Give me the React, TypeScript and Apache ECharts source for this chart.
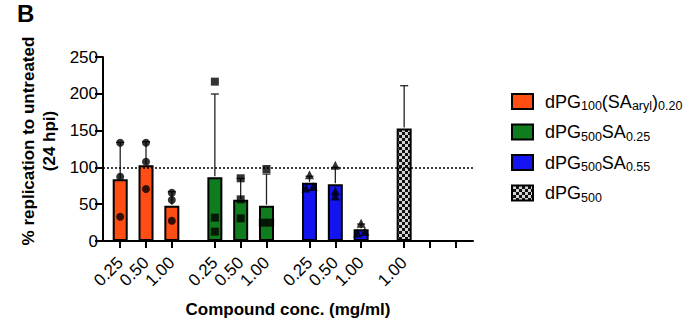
import React, { useEffect, useRef } from 'react';
import * as echarts from 'echarts';

// ---------- data ----------
const groupKeys = ['dPG100(SAaryl)0.20', 'dPG500SA0.25', 'dPG500SA0.55', 'dPG500'];
// legend label as [main, subscript] pairs
const legendParts: string[][][] = [
  [['dPG', '100'], ['(SA', 'aryl'], [')', '0.20']],
  [['dPG', '500'], ['SA', '0.25']],
  [['dPG', '500'], ['SA', '0.55']],
  [['dPG', '500']],
];
const concLabels: string[][] = [
  ['0.25', '0.50', '1.00'],
  ['0.25', '0.50', '1.00'],
  ['0.25', '0.50', '1.00'],
  ['1.00', '', ''],
];
const orangeMeans = [84, 103, 48];
const orangeUpper = [134, 135, 67];
const orangePoints = [[133.6, 87.4, 33], [133.6, 107.7, 70.7], [65.6, 55.7, 27.6]];
const greenMeans = [86.5, 56, 48];
const greenUpper = [199.7, 85, 91];
const greenPoints = [[216.5, 31.7, 12.7], [85.2, 56.6, 30.8], [97.8, 24.9, 24.9]];
const blueMeans = [79, 77, 16];
const blueUpper = [88, 100, 23];
const bluePoints = [[90, 74, 72], [103, 68, 61], [24, 13, 11]];
const grayMeans: (number | null)[] = [153, null, null];
const grayUpper: (number | null)[] = [211, null, null];
const grayPoints: number[][] = [[], [], []];
const yTicks = [0, 50, 100, 150, 200, 250];
const referenceLine = 100;
const yTitle = '% replication to untreated\n(24 hpi)';
const xTitle = 'Compound conc. (mg/ml)';
const panelLetter = 'B';

const allMeans = [orangeMeans, greenMeans, blueMeans, grayMeans];
const allUpper = [orangeUpper, greenUpper, blueUpper, grayUpper];
const allPoints = [orangePoints, greenPoints, bluePoints, grayPoints];

// ---------- styles / layout ----------
const FONT = '"Liberation Sans", Arial, Helvetica, sans-serif';
const barColors = ['#FF4E14', '#0F7D1E', '#1414F0', 'checker'];
const symbols = ['circle', 'rect', 'triangle', 'circle'];
const GROUP_START = 2;
const GROUP_STRIDE = 11;
const ITEM_STRIDE = 3;
const X_MAX = 43;
const xPos = (g: number, i: number) => GROUP_START + g * GROUP_STRIDE + i * ITEM_STRIDE;

function makeChecker() {
  const c = document.createElement('canvas');
  c.width = 6;
  c.height = 6;
  const ctx = c.getContext('2d')!;
  ctx.fillStyle = '#d4d4d4';
  ctx.fillRect(0, 0, 6, 6);
  ctx.fillStyle = '#111';
  ctx.fillRect(0, 0, 3, 3);
  ctx.fillRect(3, 3, 3, 3);
  return c;
}

// spread near-equal points horizontally (like GraphPad)
function spread(values: number[]): number[] {
  const idx = values.map((v, i) => i).sort((a, b) => values[a] - values[b]);
  const offs = new Array(values.length).fill(0);
  let k = 0;
  while (k < idx.length) {
    let j = k;
    while (j + 1 < idx.length && values[idx[j + 1]] - values[idx[j]] < 5) j++;
    const n = j - k + 1;
    if (n > 1) {
      for (let t = 0; t < n; t++) offs[idx[k + t]] = (t - (n - 1) / 2) * 0.85;
    }
    k = j + 1;
  }
  return offs;
}

export default function App() {
  const ref = useRef<HTMLDivElement>(null);
  useEffect(() => {
    if (!ref.current) return;
    const chart = echarts.init(ref.current, undefined, { renderer: 'svg' });
    const checker = makeChecker();
    const fillOf = (g: number) =>
      barColors[g] === 'checker' ? ({ image: checker, repeat: 'repeat' } as any) : barColors[g];

    const tickValues: number[] = [];
    const labelMap = new Map<number, string>();
    concLabels.forEach((labs, g) =>
      labs.forEach((l, i) => {
        tickValues.push(xPos(g, i));
        labelMap.set(xPos(g, i), l);
      })
    );

    const series: any[] = [];
    allMeans.forEach((means, g) => {
      series.push({
        type: 'bar',
        name: groupKeys[g],
        data: means
          .map((m, i) => (m == null ? null : [xPos(g, i), m]))
          .filter((d) => d != null),
        barWidth: 15,
        barGap: '-100%',
        itemStyle: { color: fillOf(g), borderColor: '#000', borderWidth: 2 },
        z: 2,
        markLine:
          g === 0
            ? {
                silent: true,
                symbol: ['none', 'none'],
                label: { show: false },
                lineStyle: { color: '#000', type: [2, 2], width: 1.5 },
                data: [{ yAxis: referenceLine }],
              }
            : undefined,
      });
    });

    const errData: number[][] = [];
    allMeans.forEach((means, g) =>
      means.forEach((m, i) => {
        const u = allUpper[g][i];
        if (m != null && u != null) errData.push([xPos(g, i), m, u]);
      })
    );
    series.push({
      type: 'custom',
      data: errData,
      encode: { x: 0, y: [1, 2] },
      z: 3,
      renderItem: (params: any, api: any) => {
        const x = api.value(0);
        const p0 = api.coord([x, api.value(1)]);
        const p1 = api.coord([x, api.value(2)]);
        const st = { stroke: '#222', lineWidth: 1.3 };
        return {
          type: 'group',
          children: [
            { type: 'line', shape: { x1: p0[0], y1: p0[1] - 1, x2: p1[0], y2: p1[1] }, style: st },
            { type: 'line', shape: { x1: p1[0] - 4, y1: p1[1], x2: p1[0] + 4, y2: p1[1] }, style: st },
          ],
        };
      },
    });

    allPoints.forEach((pts, g) => {
      const data: number[][] = [];
      pts.forEach((vals, i) => {
        const offs = spread(vals);
        vals.forEach((v, k) => data.push([xPos(g, i) + offs[k], v]));
      });
      if (data.length)
        series.push({
          type: 'scatter',
          data,
          symbol: symbols[g],
          symbolSize: g === 2 ? 9 : 8,
          itemStyle: { color: '#000' },
          z: 4,
        });
    });

    const graphics: any[] = [];
    graphics.push({
      type: 'text',
      x: 17,
      y: 1,
      style: { text: panelLetter, font: `bold 24px ${FONT}`, fill: '#000', verticalAlign: 'top' },
    });
    graphics.push({
      type: 'text',
      x: 39,
      y: 141,
      rotation: Math.PI / 2,
      style: {
        text: yTitle,
        font: `bold 17px ${FONT}`,
        lineHeight: 20.5,
        fill: '#000',
        align: 'center',
        verticalAlign: 'middle',
      },
    });
    graphics.push({
      type: 'text',
      x: 288,
      y: 309,
      style: {
        text: xTitle,
        font: `bold 17px ${FONT}`,
        fill: '#000',
        align: 'center',
        verticalAlign: 'middle',
      },
    });
    legendParts.forEach((parts, r) => {
      const cy = 101.5 + r * 30.5;
      graphics.push({
        type: 'rect',
        shape: { x: 512, y: cy - 7.5, width: 21, height: 15 },
        style: { fill: fillOf(r), stroke: '#000', lineWidth: 2 },
      });
      graphics.push({
        type: 'text',
        x: 545,
        y: cy,
        style: {
          text: parts.map(([m, s]) => `{m|${m}}` + (s ? `{s|${s}}` : '')).join(''),
          verticalAlign: 'middle',
          rich: {
            m: { fontFamily: FONT, fontSize: 18, lineHeight: 22, fill: '#000', color: '#000' },
            s: {
              fontFamily: FONT,
              fontSize: 12.5,
              lineHeight: 12,
              verticalAlign: 'bottom',
              fill: '#000',
              color: '#000',
            },
          },
        },
      });
    });

    chart.setOption({
      animation: false,
      backgroundColor: '#fff',
      grid: { left: 103, right: 227, top: 57, bottom: 82 },
      xAxis: {
        type: 'value',
        min: 0,
        max: X_MAX,
        splitLine: { show: false },
        axisLine: { show: true, onZero: false, lineStyle: { color: '#000', width: 2 } },
        axisTick: {
          show: true,
          customValues: tickValues,
          length: 7,
          lineStyle: { color: '#000', width: 2 },
        },
        axisLabel: {
          show: true,
          customValues: tickValues,
          formatter: (v: number) => labelMap.get(Math.round(v)) ?? '',
          rotate: 45,
          margin: 19,
          color: '#000',
          fontSize: 17,
          fontFamily: FONT,
        },
      },
      yAxis: {
        type: 'value',
        min: yTicks[0],
        max: yTicks[yTicks.length - 1],
        interval: 50,
        splitLine: { show: false },
        axisLine: { show: true, lineStyle: { color: '#000', width: 2 } },
        axisTick: { show: true, length: 8, lineStyle: { color: '#000', width: 2 } },
        axisLabel: { color: '#000', fontSize: 17, fontFamily: FONT, margin: 5 },
      },
      series,
      graphic: graphics,
    });
    return () => chart.dispose();
  }, []);
  return (
    <div
      ref={ref}
      style={{ position: 'fixed', left: 0, top: 0, width: 700, height: 323, background: '#fff' }}
    />
  );
}
